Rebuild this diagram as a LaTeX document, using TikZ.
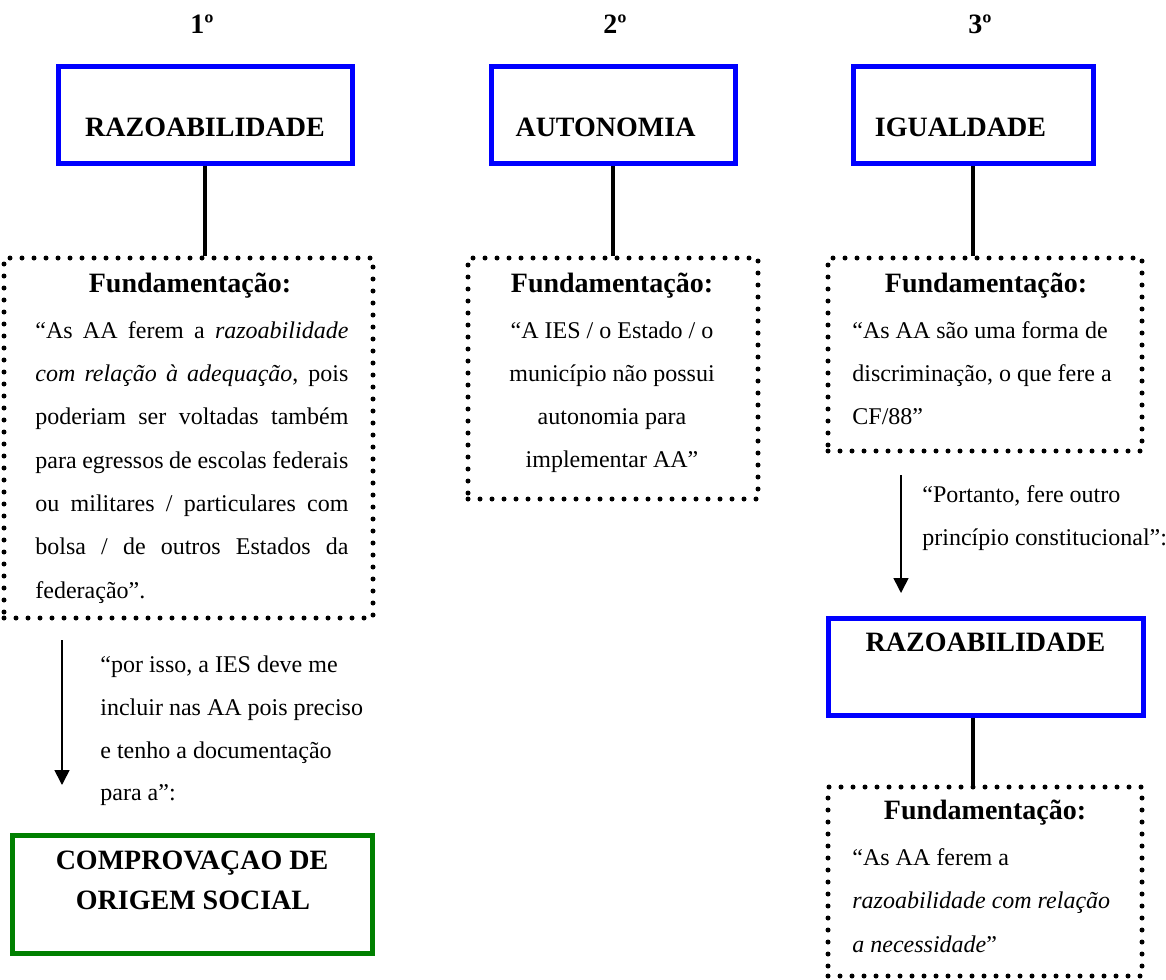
\documentclass[tikz,border=0pt]{standalone}
\usepackage{fontspec}
\setmainfont{Liberation Serif}
\usetikzlibrary{arrows.meta,fit}
\definecolor{boxblue}{RGB}{0,0,255}
\definecolor{boxgreen}{RGB}{0,128,0}
\begin{document}
\begin{tikzpicture}[x=0.5pt,y=-0.5pt,
  bluebox/.style={draw=boxblue, line width=2.5pt, inner sep=0pt},
  greenbox/.style={draw=boxgreen, line width=2.5pt, inner sep=0pt},
  dotbox/.style={draw, line width=2.5pt, line cap=round, dash pattern=on 0pt off 6pt, inner sep=0pt},
  head/.style={font=\fontsize{14}{16}\selectfont\bfseries, inner sep=0pt, anchor=base},
  body/.style={font=\fontsize{12}{14}\selectfont, inner sep=0pt, anchor=base west},
  bodyc/.style={font=\fontsize{12}{14}\selectfont, inner sep=0pt, anchor=base},
  link/.style={line width=1.6pt},
  flow/.style={line width=0.8pt, -{Triangle[length=7.5pt,width=7.5pt]}}
]
\useasboundingbox (0,0) rectangle (1166,979);

% ordinal labels
\node[head] (o1) at (202,34) {1º};
\node[head] (o2) at (615,34) {2º};
\node[head] (o3) at (980,34) {3º};

% principle boxes
\node[bluebox, fit={(58,67) (352,163)}] (b1) {};
\node[head] (t1) at (205,136) {RAZOABILIDADE};
\node[bluebox, fit={(491,67) (735,163)}] (b2) {};
\node[head] (t2) at (605.5,136) {AUTONOMIA};
\node[bluebox, fit={(853,67) (1093,163)}] (b3) {};
\node[head] (t3) at (960.5,136) {IGUALDADE};

% dotted boxes
\node[dotbox, fit={(4,258) (373,618)}] (d1) {};
\node[dotbox, fit={(468,258) (758,499)}] (d2) {};
\node[dotbox, fit={(828,258) (1142,451)}] (d3) {};

% D1 text
\node[head] (h1) at (190,292) {Fundamentação:};
\node[body] (l11) at (35,338) {\makebox[156.5pt][s]{“As AA ferem a \textit{razoabilidade}}};
\node[body] (l12) at (35,381) {\makebox[156.5pt][s]{\textit{com relação à adequação}, pois}};
\node[body] (l13) at (35,424) {\makebox[156.5pt][s]{poderiam ser voltadas também}};
\node[body] (l14) at (35,468) {\makebox[156.5pt][s]{para egressos de escolas federais}};
\node[body] (l15) at (35,511) {\makebox[156.5pt][s]{ou militares / particulares com}};
\node[body] (l16) at (35,554) {\makebox[156.5pt][s]{bolsa / de outros Estados da}};
\node[body] (l17) at (35,598) {federação”.};

% D2 text
\node[head] (h2) at (612,292) {Fundamentação:};
\node[bodyc] (l21) at (612,338) {“A IES / o Estado / o};
\node[bodyc] (l22) at (612,381) {município não possui};
\node[bodyc] (l23) at (612,424) {autonomia para};
\node[bodyc] (l24) at (612,467) {implementar AA”};

% D3 text
\node[head] (h3) at (986,292) {Fundamentação:};
\node[body] (l31) at (852,338) {“As AA são uma forma de};
\node[body] (l32) at (852,381) {discriminação, o que fere a};
\node[body] (l33) at (852,424) {CF/88”};

% links
\draw[link] (b1.south) -- (b1.south |- d1.north);
\draw[link] (b2.south) -- (b2.south |- d2.north);
\draw[link] (b3.south) -- (b3.south |- d3.north);

% arrow 1 and green box
\coordinate (a1s) at (62,640);
\coordinate (a1e) at (62,785);
\draw[flow] (a1s) -- (a1e);
\node[body] (p1) at (100,672) {“por isso, a IES deve me};
\node[body] (p2) at (100,715) {incluir nas AA pois preciso};
\node[body] (p3) at (100,758) {e tenho a documentação};
\node[body] (p4) at (100,800) {para a”:};
\node[greenbox, fit={(12,835) (372,953)}] (g) {};
\node[head] (g1) at (192,869) {COMPROVAÇAO DE};
\node[head] (g2) at (193,909) {ORIGEM SOCIAL};

% arrow 3 and second razoabilidade
\coordinate (a3s) at (901,475);
\coordinate (a3e) at (901,593);
\draw[flow] (a3s) -- (a3e);
\node[body] (q1) at (922,502) {“Portanto, fere outro};
\node[body] (q2) at (922,545) {princípio constitucional”:};
\node[bluebox, fit={(828,618) (1143,715)}] (b4) {};
\node[head] (t4) at (985.5,651) {RAZOABILIDADE};
\node[dotbox, fit={(828,787) (1142,976)}] (d4) {};
\coordinate (c4) at (973,0);
\draw[link] (b4.south -| c4) -- (d4.north -| c4);
\node[head] (h4) at (985,819) {Fundamentação:};
\node[body] (l41) at (852,865) {“As AA ferem a};
\node[body] (l42) at (852,908) {\textit{razoabilidade com relação}};
\node[body] (l43) at (852,952) {\textit{a necessidade}”};
\end{tikzpicture}
\end{document}
